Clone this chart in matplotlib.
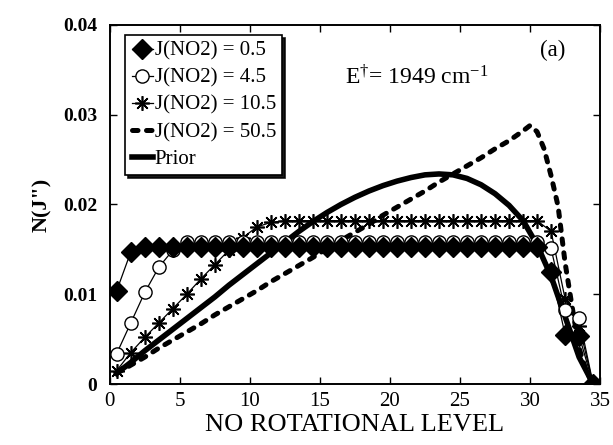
import numpy as np
import matplotlib.pyplot as plt

plt.rcParams['font.family'] = ['Liberation Serif', 'DejaVu Serif']
plt.rcParams['mathtext.fontset'] = 'custom'
plt.rcParams['mathtext.rm'] = 'Liberation Serif'
plt.rcParams['mathtext.it'] = 'Liberation Serif:italic'

# rotational levels J'' = 0.5 ... 34.5
levels = [0.5, 1.5, 2.5, 3.5, 4.5, 5.5, 6.5, 7.5, 8.5, 9.5, 10.5, 11.5,
          12.5, 13.5, 14.5, 15.5, 16.5, 17.5, 18.5, 19.5, 20.5, 21.5, 22.5,
          23.5, 24.5, 25.5, 26.5, 27.5, 28.5, 29.5, 30.5, 31.5, 32.5, 33.5, 34.5]

j05 = [0.0104, 0.0147, 0.0153, 0.0153, 0.0153, 0.0153, 0.0153, 0.0153, 0.0153,
       0.0153, 0.0153, 0.0153, 0.0153, 0.0153, 0.0153, 0.0153, 0.0153, 0.0153,
       0.0153, 0.0153, 0.0153, 0.0153, 0.0153, 0.0153, 0.0153, 0.0153, 0.0153,
       0.0153, 0.0153, 0.0153, 0.0153, 0.0125, 0.0055, 0.0054, 0.0]

j45 = [0.0034, 0.0068, 0.0102, 0.0130, 0.0149, 0.0158, 0.0158, 0.0158, 0.0158,
       0.0158, 0.0158, 0.0158, 0.0158, 0.0158, 0.0158, 0.0158, 0.0158, 0.0158,
       0.0158, 0.0158, 0.0158, 0.0158, 0.0158, 0.0158, 0.0158, 0.0158, 0.0158,
       0.0158, 0.0158, 0.0158, 0.0158, 0.0151, 0.0082, 0.0074, 0.0]

j105 = [0.0015, 0.0035, 0.0052, 0.0068, 0.0084, 0.0100, 0.0117, 0.0133, 0.0149,
        0.0163, 0.0175, 0.0180, 0.0182, 0.0182, 0.0182, 0.0182, 0.0182, 0.0182,
        0.0182, 0.0182, 0.0182, 0.0182, 0.0182, 0.0182, 0.0182, 0.0182, 0.0182,
        0.0182, 0.0182, 0.0182, 0.0182, 0.0170, 0.0095, 0.0065, 0.0]

prior = [0.0012, 0.0024, 0.0037, 0.0049, 0.0061, 0.0073, 0.0085, 0.0097, 0.0110,
         0.0122, 0.0134, 0.0146, 0.0158, 0.0170, 0.0181, 0.0191, 0.0200, 0.0208,
         0.0215, 0.0221, 0.0226, 0.0230, 0.0233, 0.0234, 0.0233, 0.0229, 0.0222,
         0.0212, 0.0199, 0.0182, 0.0155, 0.0120, 0.0075, 0.0030, 0.0]

# J=50.5 curve sampled more finely near the drop
levels_505 = [0.5, 1.5, 2.5, 3.5, 4.5, 5.5, 6.5, 7.5, 8.5, 9.5, 10.5, 11.5,
              12.5, 13.5, 14.5, 15.5, 16.5, 17.5, 18.5, 19.5, 20.5, 21.5, 22.5,
              23.5, 24.5, 25.5, 26.5, 27.5, 28.5, 29.5, 30.0, 30.5, 31.0, 31.5,
              32.0, 32.5, 33.0, 33.5, 34.0, 34.5]
j505 = [0.0012, 0.0021, 0.0030, 0.0040, 0.0049, 0.0058, 0.0067, 0.0077, 0.0086,
        0.0095, 0.0104, 0.0114, 0.0123, 0.0132, 0.0141, 0.0151, 0.0160, 0.0169,
        0.0178, 0.0188, 0.0197, 0.0206, 0.0215, 0.0225, 0.0234, 0.0243, 0.0252,
        0.0262, 0.0271, 0.0282, 0.0288, 0.0281, 0.0262, 0.0232, 0.0198, 0.0135,
        0.0086, 0.0040, 0.0015, 0.0]

fig = plt.figure(figsize=(6.13, 4.45), dpi=100)
ax = fig.add_axes([0.179, 0.137, 0.8, 0.807])

ax.plot(levels_505, j505, color='black', lw=3.6, dashes=(1.1, 1.7),
        dash_capstyle='round', label='J(NO2) = 50.5', zorder=2)
ax.plot(levels, prior, color='black', lw=4, label='Prior', zorder=2)
ax.plot(levels, j105, color='black', lw=0.9, marker=(8, 2, 0), markersize=10.5,
        markeredgewidth=1.2, label='J(NO2) = 10.5', zorder=3)
ax.plot(levels, j45, color='black', lw=0.9, marker='o', markersize=9.5,
        markerfacecolor='white', markeredgewidth=1.0, label='J(NO2) = 4.5', zorder=4)
ax.plot(levels, j05, color='black', lw=0.9, marker='D', markersize=10,
        markerfacecolor='black', label='J(NO2) = 0.5', zorder=5)

ax.set_xlim(0, 35)
ax.set_ylim(0, 0.04)
ax.set_xticks([0, 5, 10, 15, 20, 25, 30, 35])
ax.set_yticks([0, 0.01, 0.02, 0.03, 0.04])
ax.set_yticklabels(['0', '0.01', '0.02', '0.03', '0.04'], fontweight='bold')
ax.tick_params(direction='in', length=5, width=1, top=True, right=True)
ax.tick_params(axis='x', labelsize=15, pad=6)
ax.tick_params(axis='y', labelsize=14, pad=9)
for s in ax.spines.values():
    s.set_linewidth(1.4)

ax.set_xlabel('NO ROTATIONAL LEVEL', fontsize=19, labelpad=2)
ax.set_ylabel('N(J")', fontsize=16, fontweight='bold', labelpad=8)

ax.text(16.8, 0.0342, r'E$^{\dagger}$= 1949 cm$^{\mathrm{-1}}$', fontsize=17,
        va='center', ha='left')
ax.text(31.6, 0.0372, '(a)', fontsize=16.5, va='center', ha='center')

handles, labels = ax.get_legend_handles_labels()
order = [4, 3, 2, 0, 1]
leg = ax.legend([handles[i] for i in order], [labels[i] for i in order],
                loc='upper left', bbox_to_anchor=(0.032, 0.972), fontsize=15,
                handlelength=1.0, handletextpad=0.1, labelspacing=0.36,
                borderpad=0.3, borderaxespad=0, fancybox=False,
                shadow={'color': 'black', 'alpha': 0.9},
                framealpha=1, edgecolor='black')
leg.get_frame().set_linewidth(1.2)

fig.savefig('out.png', dpi=100)
